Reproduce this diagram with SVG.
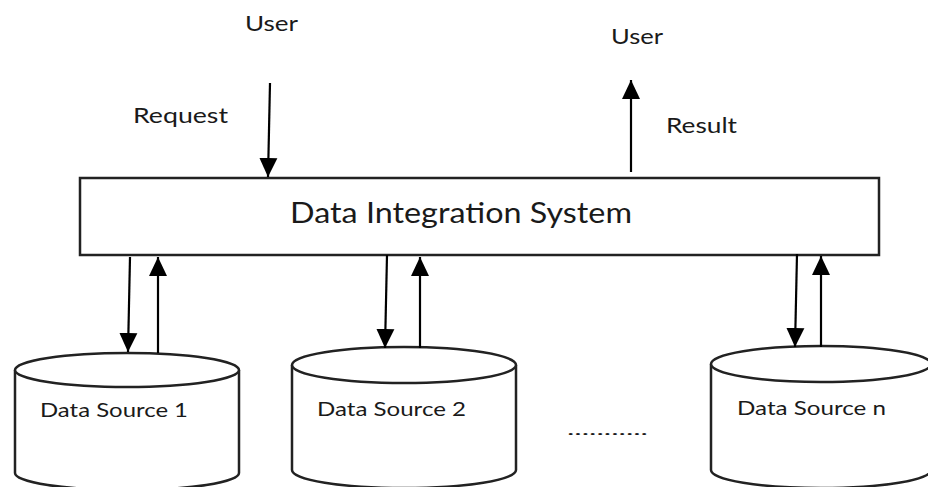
<svg xmlns="http://www.w3.org/2000/svg" width="928" height="487" viewBox="0 0 928 487">
<style>
.t{font-family:Lato,"Open Sans","Liberation Sans",sans-serif;fill:#1a1a1a}
.ln{stroke:#000;stroke-width:2.2;fill:none}
.box{fill:#fff;stroke:#222;stroke-width:2.5}
.cyl{fill:#fff;stroke:#222;stroke-width:2.5}
</style>
<defs>
<marker id="ah" markerUnits="userSpaceOnUse" markerWidth="20" markerHeight="20" viewBox="0 0 20 20" refX="19" refY="10" orient="auto">
<path d="M0,1 L19,10 L0,19 Z" fill="#000"/>
</marker>
</defs>
<rect width="928" height="487" fill="#fff"/>
<g id="dis">
<rect class="box" x="80" y="178" width="799" height="77"/>
<text class="t" x="290" y="223" font-size="29" textLength="342" lengthAdjust="spacingAndGlyphs">Data Integration System</text>
</g>
<g id="ds1">
<path class="cyl" d="M15,370 V473 A112,17 0 0 0 239,473 V370"/>
<ellipse class="cyl" cx="127" cy="370" rx="112" ry="17"/>
<text class="t" x="40" y="417" font-size="20" textLength="148" lengthAdjust="spacingAndGlyphs">Data Source 1</text>
</g>
<g id="ds2">
<path class="cyl" d="M292,365 V470 A112,18 0 0 0 516,470 V365"/>
<ellipse class="cyl" cx="404" cy="365" rx="112" ry="18"/>
<text class="t" x="317" y="416" font-size="20" textLength="149" lengthAdjust="spacingAndGlyphs">Data Source 2</text>
</g>
<g id="dsn">
<path class="cyl" d="M711,364 V470 A110,18 0 0 0 931,470 V364"/>
<ellipse class="cyl" cx="821" cy="364" rx="110" ry="18"/>
<text class="t" x="737" y="415" font-size="20" textLength="149" lengthAdjust="spacingAndGlyphs">Data Source n</text>
</g>
<g id="labels">
<text class="t" x="245" y="31" font-size="21" textLength="53" lengthAdjust="spacingAndGlyphs">User</text>
<text class="t" x="133" y="123" font-size="21" textLength="95" lengthAdjust="spacingAndGlyphs">Request</text>
<text class="t" x="611" y="44" font-size="21" textLength="52" lengthAdjust="spacingAndGlyphs">User</text>
<text class="t" x="666" y="133" font-size="21" textLength="71" lengthAdjust="spacingAndGlyphs">Result</text>
<text class="t" x="567" y="435" font-size="16" textLength="81" lengthAdjust="spacingAndGlyphs">...........</text>
</g>
<g id="connectors">
<line class="ln" x1="270" y1="83" x2="268" y2="177" marker-end="url(#ah)"/>
<line class="ln" x1="631" y1="172" x2="631" y2="80" marker-end="url(#ah)"/>
<line class="ln" x1="130" y1="257" x2="128" y2="352" marker-end="url(#ah)"/>
<line class="ln" x1="158" y1="353" x2="158" y2="257" marker-end="url(#ah)"/>
<line class="ln" x1="387" y1="255" x2="385" y2="348" marker-end="url(#ah)"/>
<line class="ln" x1="420" y1="348" x2="420" y2="257" marker-end="url(#ah)"/>
<line class="ln" x1="797" y1="254" x2="795" y2="347" marker-end="url(#ah)"/>
<line class="ln" x1="821" y1="347" x2="821" y2="256" marker-end="url(#ah)"/>
</g>
</svg>
